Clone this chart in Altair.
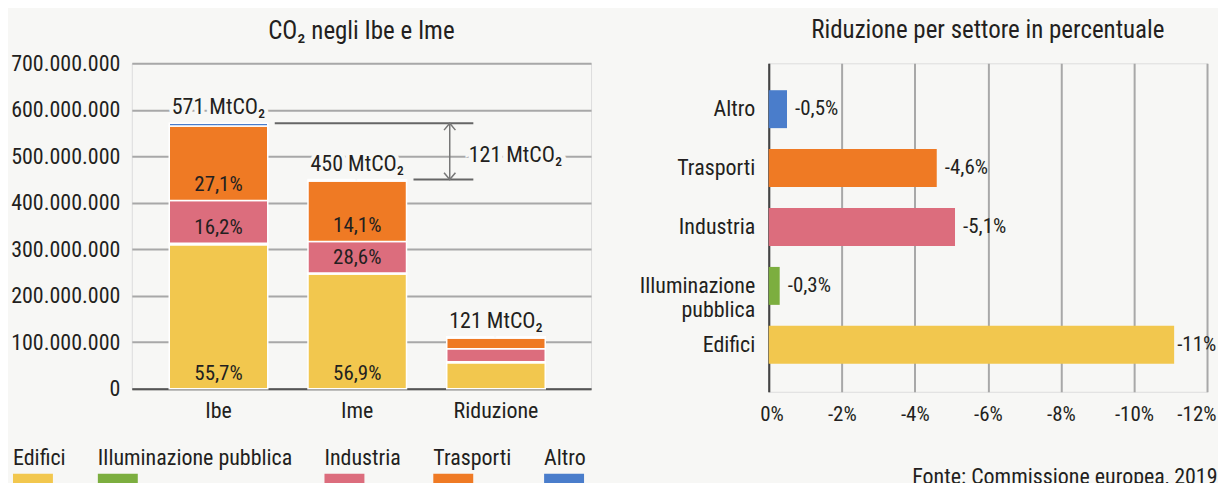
import altair as alt
import pandas as pd

FONT = ("Roboto Condensed, Noto Sans ExtraCondensed, Noto Sans Condensed, "
        "Liberation Sans Narrow, DejaVu Sans Condensed, sans-serif")
BG = "#f7f7f5"
TEXT = "#231f20"

# ---------------- data ----------------
categories = ["Ibe", "Ime", "Riduzione"]
sectors = ["Edifici", "Illuminazione pubblica", "Industria", "Trasporti", "Altro"]
sector_colors = ["#f2c74e", "#7cae3f", "#dc6d7d", "#ef7a24", "#4a7dcb"]

# MtCO2 per sector
ibe_mt = [310, 3, 92, 160, 6]
ime_mt = [247, 2, 68, 130, 3]
riduzione_mt = [56, 2, 28, 23, 3]

total_labels = ["571 MtCO₂", "450 MtCO₂", "121 MtCO₂"]
ibe_pct_labels = ["55,7%", "", "16,2%", "27,1%", ""]
ime_pct_labels = ["56,9%", "", "28,6%", "14,1%", ""]
riduzione_pct_labels = ["", "", "", "", ""]

y_ticks = [0, 100e6, 200e6, 300e6, 400e6, 500e6, 600e6, 700e6]

right_sectors = ["Altro", "Trasporti", "Industria", "Illuminazione pubblica", "Edifici"]
right_values = [-0.5, -4.6, -5.1, -0.3, -11.1]
right_labels = ["-0,5%", "-4,6%", "-5,1%", "-0,3%", "-11%"]
x_ticks = [0, -2, -4, -6, -8, -10, -12]

# ---------------- tables ----------------
rows = []
for cat, vals, pcts in zip(categories, [ibe_mt, ime_mt, riduzione_mt],
                           [ibe_pct_labels, ime_pct_labels, riduzione_pct_labels]):
    acc = 0.0
    for s, v, p in zip(sectors, vals, pcts):
        rows.append({"cat": cat, "sector": s, "y0": acc * 1e6, "y1": (acc + v) * 1e6, "pct": p})
        acc += v
seg_df = pd.DataFrame(rows)

tot_df = pd.DataFrame({
    "cat": categories,
    "total": [sum(ibe_mt) * 1e6, sum(ime_mt) * 1e6, sum(riduzione_mt) * 1e6],
    "label": total_labels,
})

top_v = sum(ibe_mt) * 1e6
bot_v = sum(ime_mt) * 1e6
ann_df = pd.DataFrame({
    "cat": ["Ibe"], "cat_mid": ["Ime"], "cat_to": ["Riduzione"],
    "top": [top_v], "bottom": [bot_v], "mid": [(top_v + bot_v) / 2],
    "label": [total_labels[2]],
})

right_df = pd.DataFrame({"sector": right_sectors, "value": right_values, "label": right_labels})

# ---------------- left chart ----------------
FS = 22
xscale = alt.Scale(domain=categories, paddingInner=0.29, paddingOuter=0.3, align=0.45)
yscale = alt.Scale(domain=[0, 700e6], nice=False)

bars = alt.Chart(seg_df).mark_bar(stroke="white", strokeWidth=1.5).encode(
    x=alt.X("cat:N", scale=xscale,
            axis=alt.Axis(title=None, labelAngle=0, ticks=False, domainColor="#555555",
                          domainWidth=2, labelPadding=12, labelFontSize=FS, labelColor=TEXT,
                          labelFont=FONT)),
    y=alt.Y("y0:Q", scale=yscale,
            axis=alt.Axis(title=None, values=y_ticks, ticks=False, domain=False,
                          gridColor="#a8a8a8", gridWidth=2, labelPadding=12, labelFontSize=FS,
                          labelColor=TEXT, labelFont=FONT,
                          labelExpr="replace(format(datum.value, ','), regexp(',', 'g'), '.')")),
    y2="y1:Q",
    color=alt.Color("sector:N", scale=alt.Scale(domain=sectors, range=sector_colors),
                    legend=alt.Legend(title=None, orient="none", direction="horizontal",
                                      legendX=-119, legendY=406, padding=-22,
                                      symbolType="M11,16H51V28H11Z", symbolSize=4,
                                      symbolStrokeWidth=0, symbolOpacity=1,
                                      labelOffset=0, columnPadding=10,
                                      labelFontSize=FS, labelFont=FONT, labelColor=TEXT,
                                      labelBaseline="middle", labelLimit=400)),
)

pct_text = alt.Chart(seg_df).transform_filter("datum.pct != ''").mark_text(
    dy=-15, fontSize=21, font=FONT, color=TEXT, baseline="middle"
).encode(x="cat:N", y="y0:Q", text="pct:N")

tot_halo = alt.Chart(tot_df).mark_text(
    dy=-16, fontSize=FS, font=FONT, color=BG, stroke=BG, strokeWidth=8, baseline="middle"
).encode(x="cat:N", y="total:Q", text="label:N")
tot_text = alt.Chart(tot_df).mark_text(
    dy=-16, fontSize=FS, font=FONT, color=TEXT, baseline="middle"
).encode(x="cat:N", y="total:Q", text="label:N")

ann = alt.Chart(ann_df)
rule_top = ann.mark_rule(xOffset=7, color="#666666", strokeWidth=2).encode(
    x=alt.X("cat:N", bandPosition=1), x2=alt.X2("cat_to:N", bandPosition=0.27), y="top:Q")
rule_bot = ann.mark_rule(xOffset=7, color="#666666", strokeWidth=2).encode(
    x=alt.X("cat_mid:N", bandPosition=1), x2=alt.X2("cat_to:N", bandPosition=0.27), y="bottom:Q")
arrow = ann.mark_rule(xOffset=3, color="#777777", strokeWidth=1.5).encode(
    x=alt.X("cat_to:N", bandPosition=0), y="top:Q", y2="bottom:Q")
head_top = ann.mark_point(shape="M-1,1.2L0,0L1,1.2", filled=False, size=130, strokeWidth=1.5,
                          color="#777777", xOffset=3, opacity=1).encode(
    x=alt.X("cat_to:N", bandPosition=0), y="top:Q")
head_bot = ann.mark_point(shape="M-1,-1.2L0,0L1,-1.2", filled=False, size=130, strokeWidth=1.5,
                          color="#777777", xOffset=3, opacity=1).encode(
    x=alt.X("cat_to:N", bandPosition=0), y="bottom:Q")
ann_halo = ann.mark_text(dx=22, dy=4, align="left", fontSize=FS, font=FONT, color=BG, stroke=BG,
                         strokeWidth=10, baseline="middle").encode(
    x=alt.X("cat_to:N", bandPosition=0), y="mid:Q", text="label:N")
ann_text = ann.mark_text(dx=22, dy=4, align="left", fontSize=FS, font=FONT, color=TEXT,
                         baseline="middle").encode(
    x=alt.X("cat_to:N", bandPosition=0), y="mid:Q", text="label:N")

left = alt.layer(bars, pct_text, rule_top, rule_bot, arrow, head_top, head_bot,
                 tot_halo, tot_text, ann_halo, ann_text).properties(
    width=460, height=326,
    title=alt.TitleParams("CO₂ negli Ibe e Ime", fontSize=25, font=FONT, fontWeight="normal",
                          color=TEXT, anchor="middle", offset=8),
)

# ---------------- right chart ----------------
rbars = alt.Chart(right_df).mark_bar().encode(
    y=alt.Y("sector:N", sort=right_sectors,
            scale=alt.Scale(paddingInner=0.356, paddingOuter=0.466, align=0.49),
            axis=alt.Axis(title=None, ticks=False, domain=True, domainColor="#444444",
                          domainWidth=2, labelPadding=14, labelFontSize=FS, labelFont=FONT,
                          labelColor=TEXT, labelLineHeight=24, labelLimit=300,
                          labelExpr="datum.label == 'Illuminazione pubblica' ? ['Illuminazione', 'pubblica'] : datum.label")),
    x=alt.X("value:Q", scale=alt.Scale(domain=[-12, 0], reverse=True, nice=False),
            axis=alt.Axis(values=x_ticks, grid=True, gridColor="#a8a8a8", gridWidth=2,
                          domain=False, ticks=False, labelPadding=12, labelFontSize=21,
                          labelFont=FONT, labelColor=TEXT, labelFlush=True, labelFlushOffset=9,
                          labelExpr="datum.value == 0 ? '0%' : '-' + abs(datum.value) + '%'",
                          title="Fonte: Commissione europea, 2019", titleFont=FONT,
                          titleFontSize=FS, titleFontWeight="normal", titleColor=TEXT,
                          titleX=449, titleAlign="right", titlePadding=42)),
    color=alt.Color("sector:N", legend=None),
)
rtext_near = alt.Chart(right_df).transform_filter("datum.value > -10").mark_text(
    align="left", dx=8, fontSize=21, font=FONT, color=TEXT, baseline="middle").encode(
    x="value:Q", y=alt.Y("sector:N", sort=right_sectors), text="label:N")
rtext_far = alt.Chart(right_df).transform_filter("datum.value <= -10").mark_text(
    align="left", dx=3, fontSize=21, font=FONT, color=TEXT, baseline="middle").encode(
    x="value:Q", y=alt.Y("sector:N", sort=right_sectors), text="label:N")

right = alt.layer(rbars, rtext_near, rtext_far).properties(
    width=439, height=329,
    title=alt.TitleParams("Riduzione per settore in percentuale", fontSize=25, font=FONT,
                          fontWeight="normal", color=TEXT, anchor="middle", offset=20),
)

chart = alt.hconcat(left, right, spacing=178, bounds="flush").properties(
    background=BG, padding={"left": 2, "top": 9, "right": 0, "bottom": 0}
).configure_view(stroke=None).configure(font=FONT)

chart.save("out.html", embed_options={"renderer": "svg", "actions": False})
